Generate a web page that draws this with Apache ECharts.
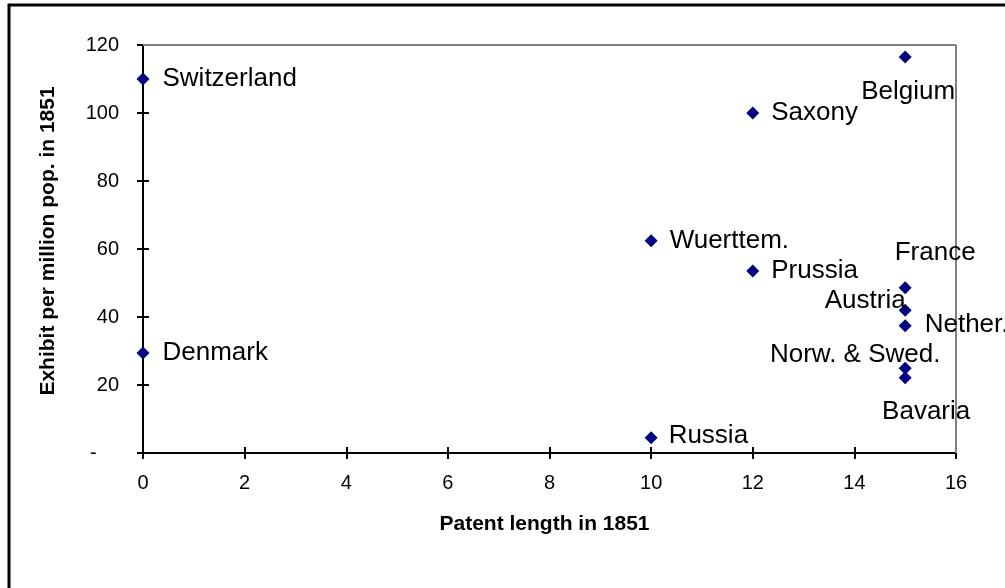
<!DOCTYPE html>
<html>
<head>
<meta charset="utf-8">
<script src="https://cdn.jsdelivr.net/npm/echarts@6/dist/echarts.min.js"></script>
<style>
html,body{margin:0;padding:0;background:#fff;}
#chart{width:1005px;height:588px;}
</style>
</head>
<body>
<div id="chart"></div>
<script>
// ---- data ----
const countries = ['Switzerland','Denmark','Belgium','Saxony','Wuerttem.','Prussia','France','Austria','Nether.','Norw. & Swed.','Bavaria','Russia'];
const patentLength = [0, 0, 15, 12, 10, 12, 15, 15, 15, 15, 15, 10];
const exhibitPerMillion = [110, 29.4, 116.5, 100, 62.4, 53.5, 48.6, 42, 37.4, 24.9, 22.1, 4.5];
const xTicks = [0, 2, 4, 6, 8, 10, 12, 14, 16];
const yTicks = ['-', '20', '40', '60', '80', '100', '120'];
const xTitle = 'Patent length in 1851';
const yTitle = 'Exhibit per million pop. in 1851';

// label placement (style only)
const labelPlace = {
  'Switzerland': {position: 'right', distance: 13},
  'Denmark': {position: 'right', distance: 13},
  'Saxony': {position: 'right', distance: 12},
  'Wuerttem.': {position: 'right', distance: 12},
  'Prussia': {position: 'right', distance: 12},
  'Russia': {position: 'right', distance: 11, offset: [0, -2]},
  'Nether.': {position: 'right', distance: 13, offset: [0, -1]},
  'Belgium': {position: 'inside', offset: [3, 35]},
  'France': {position: 'inside', offset: [30, -35]},
  'Austria': {position: 'inside', offset: [-40, -9]},
  'Norw. & Swed.': {position: 'inside', offset: [-50, -14]},
  'Bavaria': {position: 'inside', offset: [21, 34]}
};

const seriesData = countries.map((n, i) => ({
  name: n,
  value: [patentLength[i], exhibitPerMillion[i]],
  label: Object.assign({show: true, formatter: n, color: '#000'}, labelPlace[n])
}));

const chart = echarts.init(document.getElementById('chart'), null, {renderer: 'canvas'});
const font = 'Arial, "Liberation Sans", sans-serif';
const grid = {left: 143, right: 49, top: 45, bottom: 135};

chart.setOption({
  animation: false,
  backgroundColor: '#fff',
  graphic: [
    {type: 'rect', shape: {x: 9, y: 5, width: 1100, height: 700},
     style: {fill: 'none', stroke: '#000', lineWidth: 3}, z: 100},
    {type: 'line', shape: {x1: 143, y1: 45, x2: 956, y2: 45},
     style: {stroke: '#808080', lineWidth: 2}, z: 1},
    {type: 'line', shape: {x1: 956, y1: 45, x2: 956, y2: 453},
     style: {stroke: '#808080', lineWidth: 2}, z: 1},
    {type: 'text', x: 48, y: 241, rotation: Math.PI / 2,
     style: {text: yTitle, font: 'bold 21px ' + font, fill: '#000',
             align: 'center', verticalAlign: 'middle'}, z: 50}
  ],
  grid: grid,
  xAxis: [{
    type: 'value', min: 0, max: 16, interval: 2,
    name: xTitle, nameLocation: 'middle', nameGap: 61,
    nameTextStyle: {fontFamily: font, fontWeight: 'bold', fontSize: 21, color: '#000',
                    padding: [0, 10, 0, 0]},
    axisLine: {show: true, lineStyle: {color: '#000', width: 2}},
    axisTick: {show: true, inside: false, length: 6, lineStyle: {color: '#000', width: 2}},
    axisLabel: {fontFamily: font, fontSize: 20, color: '#000', margin: 20,
      formatter: v => xTicks.includes(v) ? String(v) : ''},
    splitLine: {show: false}
  }, {
    type: 'value', min: 0, max: 16, interval: 2, position: 'bottom', gridIndex: 0,
    axisLine: {show: false},
    axisTick: {show: true, inside: true, length: 6, lineStyle: {color: '#000', width: 2}},
    axisLabel: {show: false}, splitLine: {show: false}
  }],
  yAxis: [{
    type: 'value', min: 0, max: 120, interval: 20,
    axisLine: {show: true, lineStyle: {color: '#000', width: 2}},
    axisTick: {show: true, inside: false, length: 6, lineStyle: {color: '#000', width: 2}},
    axisLabel: {fontFamily: font, fontSize: 20, color: '#000', margin: 24,
      formatter: v => (v === 0 ? yTicks[0] + '    ' : yTicks[v / 20])},
    splitLine: {show: false}
  }, {
    type: 'value', min: 0, max: 120, interval: 20, position: 'left', gridIndex: 0,
    axisLine: {show: false},
    axisTick: {show: true, inside: true, length: 6, lineStyle: {color: '#000', width: 2}},
    axisLabel: {show: false}, splitLine: {show: false}
  }],
  series: [{
    type: 'scatter',
    xAxisIndex: 0, yAxisIndex: 0,
    symbol: 'diamond', symbolSize: 13,
    itemStyle: {color: '#000080', opacity: 1},
    label: {fontFamily: font, fontSize: 26, color: '#000'},
    data: seriesData,
    clip: false,
    z: 10
  }]
});
</script>
</body>
</html>
